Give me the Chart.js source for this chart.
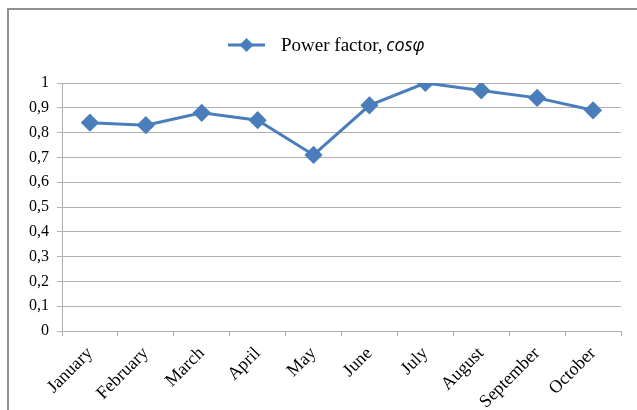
<!DOCTYPE html>
<html>
<head>
<meta charset="utf-8">
<script src="https://cdn.jsdelivr.net/npm/chart.js@4/dist/chart.umd.min.js"></script>
<style>
  body { margin: 0; background: #fff; }
  #wrap { position: relative; width: 637px; height: 410px; overflow: hidden; }
  #frame { position: absolute; left: 7px; top: 8px; width: 700px; height: 500px; border: 2px solid #8f8f8f; box-sizing: border-box; }
  canvas { position: absolute; left: 0; top: 0; }
</style>
</head>
<body>
<div id="wrap">
  <div id="frame"></div>
  <canvas id="chart" width="637" height="410"></canvas>
</div>
<script>
const months = ['January', 'February', 'March', 'April', 'May', 'June', 'July', 'August', 'September', 'October'];
const powerFactor = [0.84, 0.83, 0.88, 0.85, 0.71, 0.91, 1.0, 0.97, 0.94, 0.89];
const seriesLabel = 'Power factor, ';
const seriesSymbol = 'cosφ';

const lineColor = '#4a7ebb';
const gridColor = '#b0b0b0';

// legend drawn by hand: plain text followed by italic symbol
const legendPlugin = {
    id: 'mixedLegend',
    afterDraw(chart) {
        const ctx = chart.ctx;
        const y = 45;
        ctx.save();
        ctx.strokeStyle = lineColor;
        ctx.lineWidth = 3;
        ctx.beginPath();
        ctx.moveTo(228, y);
        ctx.lineTo(265, y);
        ctx.stroke();
        ctx.fillStyle = lineColor;
        ctx.beginPath();
        ctx.moveTo(246.5, y - 7);
        ctx.lineTo(253.5, y);
        ctx.lineTo(246.5, y + 7);
        ctx.lineTo(239.5, y);
        ctx.closePath();
        ctx.fill();
        ctx.fillStyle = '#000';
        ctx.textBaseline = 'alphabetic';
        ctx.font = '19px "Liberation Serif", serif';
        ctx.fillText(seriesLabel, 281, 51);
        const w = ctx.measureText(seriesLabel).width;
        ctx.font = 'italic 18px "Open Sans", sans-serif';
        ctx.fillText(seriesSymbol, 281 + w - 1, 51);
        ctx.restore();
    }
};

new Chart(document.getElementById('chart'), {
    type: 'line',
    data: {
        labels: months,
        datasets: [{
            label: seriesLabel + seriesSymbol,
            data: powerFactor,
            borderColor: lineColor,
            backgroundColor: lineColor,
            borderWidth: 3,
            pointStyle: 'rectRot',
            pointRadius: 7,
            pointHoverRadius: 7,
            tension: 0,
            fill: false
        }]
    },
    options: {
        responsive: false,
        animation: false,
        events: [],
        layout: { padding: { left: 0, right: 16, top: 83, bottom: 0 } },
        plugins: {
            legend: { display: false },
            tooltip: { enabled: false }
        },
        scales: {
            x: {
                offset: true,
                afterFit: function(scale) { scale.height = 79; },
                grid: {
                    offset: true,
                    drawOnChartArea: false,
                    drawTicks: true,
                    tickLength: 5,
                    color: gridColor
                },
                border: { color: gridColor, width: 1 },
                ticks: {
                    color: '#000',
                    font: { family: '"Liberation Serif", serif', size: 18 },
                    maxRotation: 45,
                    minRotation: 45,
                    autoSkip: false,
                    padding: 7
                }
            },
            y: {
                min: 0,
                max: 1,
                afterFit: function(scale) { scale.width = 62; },
                grid: {
                    color: gridColor,
                    tickLength: 5
                },
                border: { color: gridColor, width: 1 },
                ticks: {
                    stepSize: 0.1,
                    color: '#000',
                    padding: 8,
                    font: { family: '"Liberation Serif", serif', size: 16 },
                    callback: function(v) {
                        return (Math.round(v * 10) / 10).toString().replace('.', ',');
                    }
                }
            }
        }
    },
    plugins: [legendPlugin]
});
</script>
</body>
</html>
